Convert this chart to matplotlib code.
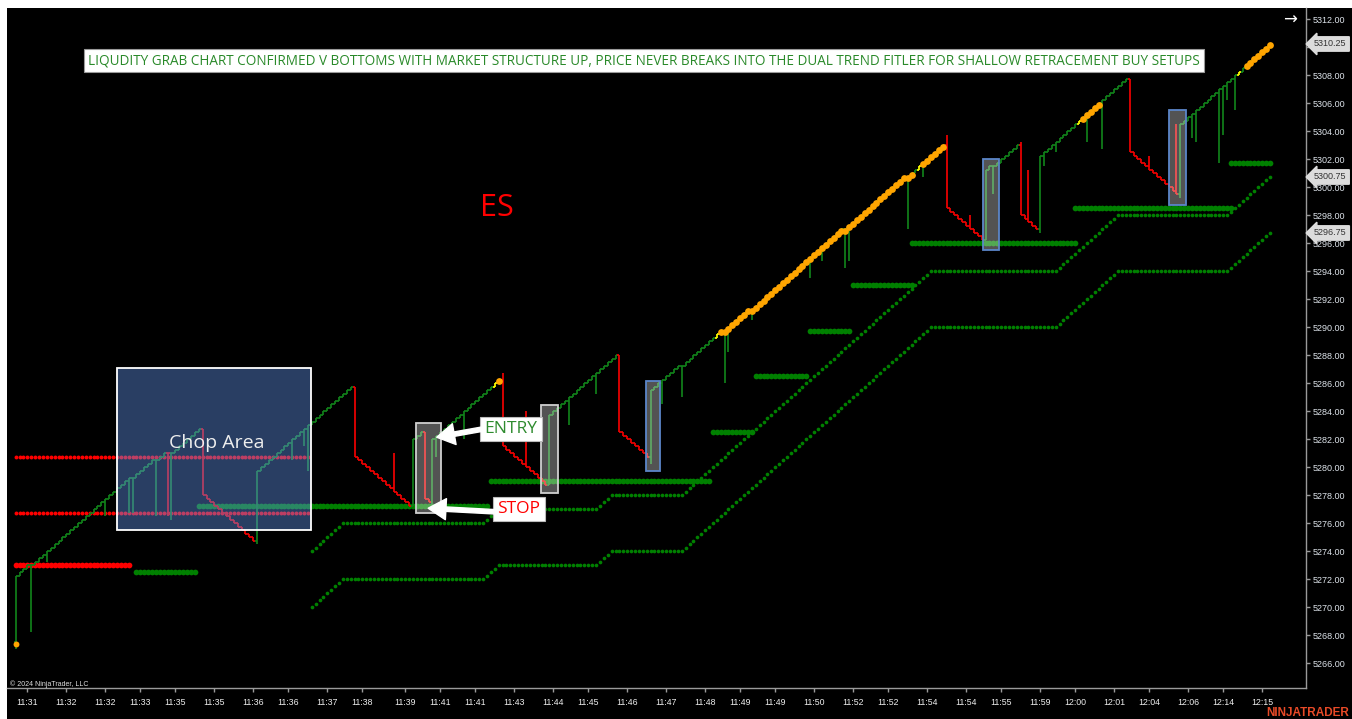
import numpy as np
import matplotlib.pyplot as plt
from matplotlib.collections import LineCollection
from matplotlib.patches import Rectangle, FancyArrowPatch
from matplotlib.transforms import blended_transform_factory

TICK = 0.25

# ---- price bars (one tick per bar); each leg = close of its reversal bar, close of its last bar
first_open = 5267.50
leg_first = [5272.25, 5278.00, 5279.75, 5280.75, 5282.00, 5277.75, 5282.00, 5281.50, 5283.75,
             5282.50, 5285.50, 5298.50, 5301.25, 5298.00, 5302.25, 5302.50, 5304.50]
leg_last = [5282.75, 5274.75, 5285.75, 5277.25, 5282.50, 5277.50, 5286.25, 5278.75, 5288.00,
            5280.75, 5303.00, 5296.25, 5303.00, 5297.00, 5307.75, 5299.50, 5310.25]
flat_bars = [4, 30, 36, 39, 40, 171, 182, 189, 213, 229, 251]
red_flat_bars = [39]
wick_bars = [0, 4, 8, 23, 29, 30, 36, 39, 40, 62, 71, 74, 75, 97, 107, 108, 115, 125, 131, 142, 149,
             163, 166, 171, 182, 183, 189, 204, 207, 213, 214, 229, 233, 239, 245, 251, 258, 260, 263,
             264, 267, 275, 279, 291, 298, 299, 302, 303, 309, 310, 311, 313]
wick_prices = [5267.00, 5268.25, 5273.25, 5276.50, 5276.75, 5276.75, 5276.50, 5276.50, 5276.25, 5274.50,
               5280.50, 5281.50, 5279.75, 5281.00, 5277.25, 5280.75, 5282.00, 5286.75, 5284.00, 5283.00,
               5285.25, 5280.25, 5284.50, 5285.00, 5286.00, 5288.25, 5290.50, 5293.50, 5294.75, 5294.25,
               5294.75, 5297.00, 5300.75, 5303.75, 5298.00, 5299.50, 5303.25, 5301.25, 5296.75, 5301.50,
               5302.50, 5303.25, 5302.75, 5302.25, 5304.50, 5299.25, 5303.50, 5303.25, 5301.75, 5303.75,
               5306.25, 5305.50]
signal_bars = [123, 180, 232, 273, 314]
orange_runs = [(124, 124), (181, 230), (233, 238), (274, 278), (316, 322)]
start_dot_price = 5267.40

# ---- trend filter dots
trail_start_bar = 76
trail_upper_start = 5274.00
trail_lower_start = 5270.00
trail_runs = [(8, 1), (36, 0), (4, 1), (25, 0), (4, 1), (18, 0), (64, 1), (32, 0), (16, 1), (28, 0), (11, 1)]

filter_levels = [5272.50, 5277.25, 5279.00, 5282.50, 5286.50, 5289.75, 5293.00, 5296.00, 5298.50, 5301.75]
filter_from = [31, 47, 122, 179, 190, 204, 215, 230, 272, 312]
filter_to = [46, 121, 178, 189, 203, 214, 230, 272, 312, 322]

red_levels = [5273.00, 5280.75, 5276.75]
red_from = [0, 0, 0]
red_to = [29, 75, 75]

# ---- axis labels
ytick_values = list(range(5266, 5313, 2))
hidden_ytick = 5310  # sits under the last-price tag
price_tags = [5310.25, 5300.75, 5296.75]
xtick_bars = [3, 13, 23, 32, 41, 51, 61, 70, 80, 89, 100, 109, 118, 128, 138, 147, 157, 167,
              177, 186, 195, 205, 215, 224, 234, 244, 253, 263, 272, 282, 291, 301, 310, 320]
xtick_labels = ["11:31", "11:32", "11:32", "11:33", "11:35", "11:35", "11:36", "11:36", "11:37",
                "11:38", "11:39", "11:41", "11:41", "11:43", "11:44", "11:45", "11:46", "11:47",
                "11:48", "11:49", "11:49", "11:50", "11:52", "11:52", "11:54", "11:54", "11:55",
                "11:59", "12:00", "12:01", "12:04", "12:06", "12:14", "12:15"]

banner = ("LIQUDITY GRAB CHART CONFIRMED V BOTTOMS WITH MARKET STRUCTURE UP, PRICE NEVER BREAKS "
          "INTO THE DUAL TREND FITLER FOR SHALLOW RETRACEMENT BUY SETUPS")

# build bars
opens, closes, up = [], [], []
prev = first_open
i = 0
for first, last in zip(leg_first, leg_last):
    opens.append(prev)
    closes.append(first)
    up.append(first >= prev)
    prev = first
    i += 1
    step = TICK if last > first else -TICK
    while prev != last:
        opens.append(prev)
        if i not in flat_bars:
            prev = prev + step
        closes.append(prev)
        up.append(step > 0)
        i += 1
opens = np.array(opens)
closes = np.array(closes)
n = len(closes)
highs = np.maximum(opens, closes)
lows = np.minimum(opens, closes)
for b, p in zip(wick_bars, wick_prices):
    highs[b] = max(highs[b], p)
    lows[b] = min(lows[b], p)

colors = []
for b in range(n):
    if b in signal_bars:
        colors.append("#ffff00")
    elif b in red_flat_bars or not up[b]:
        colors.append("#f00000")
    else:
        colors.append("#11801a")

segs, seg_colors = [], []
for b in range(n):
    segs.append([(b, lows[b]), (b, highs[b])])
    segs.append([(b - 0.5, opens[b]), (b, opens[b])])
    segs.append([(b, closes[b]), (b + 0.5, closes[b])])
    seg_colors += [colors[b]] * 3

# trailing lines
trail_steps = [s for cnt, s in trail_runs for _ in range(cnt)]
trail_offset = np.concatenate([[0], np.cumsum(trail_steps)]) * TICK
trail_x = np.arange(trail_start_bar, trail_start_bar + len(trail_offset))

fig = plt.figure(figsize=(13.52, 7.19), dpi=100, facecolor="white")
fig.add_artist(Rectangle((7 / 1352, 0), 1, 1 - 8 / 719, transform=fig.transFigure,
                         facecolor="black", edgecolor="none", zorder=-10))
ax = fig.add_axes([7 / 1352, 1 - 688 / 719, 1299 / 1352, 680 / 719])
ax.set_facecolor("black")
ax.set_xlim(-2.23, 331.27)
ax.set_ylim(5264.25, 5312.82)

# dots
for lvl, a, b in zip(red_levels, red_from, red_to):
    xs = np.arange(a, b + 1)
    size = 17 if lvl == red_levels[0] else 8
    ax.scatter(xs, np.full(len(xs), lvl), s=size, color="#ff0000", linewidths=0, zorder=2)
for lvl, a, b in zip(filter_levels, filter_from, filter_to):
    xs = np.arange(a, b + 1)
    ax.scatter(xs, np.full(len(xs), lvl), s=17, color="#008000", linewidths=0, zorder=2)
for start in (trail_upper_start, trail_lower_start):
    ax.scatter(trail_x, start + trail_offset, s=7, color="#008000", linewidths=0, zorder=2)

ax.add_collection(LineCollection(segs, colors=seg_colors, linewidths=1.25, zorder=3))

ax.scatter([0], [start_dot_price], s=18, color="#ffa500", linewidths=0, zorder=4)
for a, b in orange_runs:
    xs = np.arange(a, b + 1)
    ax.scatter(xs, closes[xs] - 0.08, s=24, color="#ffa500", linewidths=0, zorder=4)

# chop area box
ax.add_patch(Rectangle((26.0, 5275.54), 49.8, 11.57, facecolor="#6495ed", alpha=0.42,
                       edgecolor="none", zorder=5))
ax.add_patch(Rectangle((26.0, 5275.54), 49.8, 11.57, facecolor="none", edgecolor="white",
                       linewidth=1.3, zorder=5))
ax.text(51.7, 5281.75, "Chop Area", color="#eeeeee", fontsize=14, family="Open Sans",
        ha="center", va="center", zorder=6)

# highlight boxes
boxes = [(102.8, 109.2, 5276.75, 5283.18, "#d0d0d0"), (134.9, 139.2, 5278.18, 5284.46, "#d0d0d0"),
         (161.8, 165.4, 5279.75, 5286.18, "#5b86c9"), (248.3, 252.4, 5295.54, 5302.04, "#5b86c9"),
         (296.1, 300.5, 5298.75, 5305.54, "#5b86c9")]
for x0, x1, y0, y1, ec in boxes:
    ax.add_patch(Rectangle((x0, y0), x1 - x0, y1 - y0, facecolor="white", alpha=0.33,
                           edgecolor="none", zorder=5))
    ax.add_patch(Rectangle((x0, y0), x1 - x0, y1 - y0, facecolor="none", edgecolor=ec,
                           linewidth=1.3, zorder=5))

# annotations
ax.text(161.4, 5309.05, banner, color="#2a8a2a", fontsize=9.72, family="Open Sans",
        ha="center", va="center", zorder=6,
        bbox=dict(boxstyle="square,pad=0.3", facecolor="white", edgecolor="#9a9a9a", linewidth=0.8))
ax.text(123.6, 5298.5, "ES", color="#ff0000", fontsize=22, family="Open Sans",
        ha="center", va="center", zorder=6)
ax.text(127.2, 5282.75, "ENTRY", color="#2e8b2e", fontsize=12.5, family="Open Sans",
        ha="center", va="center", zorder=6,
        bbox=dict(boxstyle="square,pad=0.25", facecolor="white", edgecolor="#bbbbbb", linewidth=0.8))
ax.text(129.2, 5277.04, "STOP", color="#ff0000", fontsize=12.5, family="Open Sans",
        ha="center", va="center", zorder=6,
        bbox=dict(boxstyle="square,pad=0.25", facecolor="white", edgecolor="#bbbbbb", linewidth=0.8))
for tail, tip in [((119.6, 5282.73), (108.1, 5282.16)), ((122.8, 5276.84), (105.9, 5277.09))]:
    ax.add_patch(FancyArrowPatch(tail, tip, arrowstyle="simple,head_length=0.8,head_width=0.95,tail_width=0.2",
                                 mutation_scale=16, color="white", zorder=6, shrinkA=0, shrinkB=0))

# axes styling
for side in ("left", "top"):
    ax.spines[side].set_visible(False)
for side in ("right", "bottom"):
    ax.spines[side].set_color("#9a9a9a")
    ax.spines[side].set_linewidth(1.0)
ax.yaxis.tick_right()
ax.set_yticks(ytick_values)
ax.set_yticklabels(["" if v == hidden_ytick else f"{v:.2f}" for v in ytick_values])
ax.set_xticks(xtick_bars)
ax.set_xticklabels(xtick_labels)
ax.tick_params(axis="y", colors="#9a9a9a", labelcolor="#dde3ea", length=3, width=1,
               pad=1.5, labelsize=6.5)
ax.tick_params(axis="x", colors="#9a9a9a", labelcolor="#eeeeee", length=3, width=1,
               pad=4.0, labelsize=6.3)
for lab in ax.get_xticklabels() + ax.get_yticklabels():
    lab.set_family("Liberation Sans")

trans = blended_transform_factory(ax.transAxes, ax.transData)
for val in price_tags:
    ax.text(1.0062, val, f"{val:.2f}", transform=trans, color="#333333", fontsize=6.5,
            family="Liberation Sans", ha="left", va="center", zorder=10, clip_on=False,
            bbox=dict(boxstyle="larrow,pad=0.3", facecolor="#dcdcdc", edgecolor="#dcdcdc"))

fig.text(10 / 1352, 1 - 684 / 719, "\u00a9 2024 NinjaTrader, LLC", color="#e0e0e0", fontsize=5,
         family="Liberation Sans", ha="left", va="center")
fig.text(1349 / 1352, 1 - 713 / 719, "NINJATRADER", color="#e84a27", fontsize=8.5, weight="bold",
         family="Liberation Sans", ha="right", va="center")
fig.text(1290 / 1352, 1 - 20 / 719, "\u2192", color="white", fontsize=12, ha="center", va="center")

fig.savefig("out.png", dpi=100, facecolor=fig.get_facecolor())
